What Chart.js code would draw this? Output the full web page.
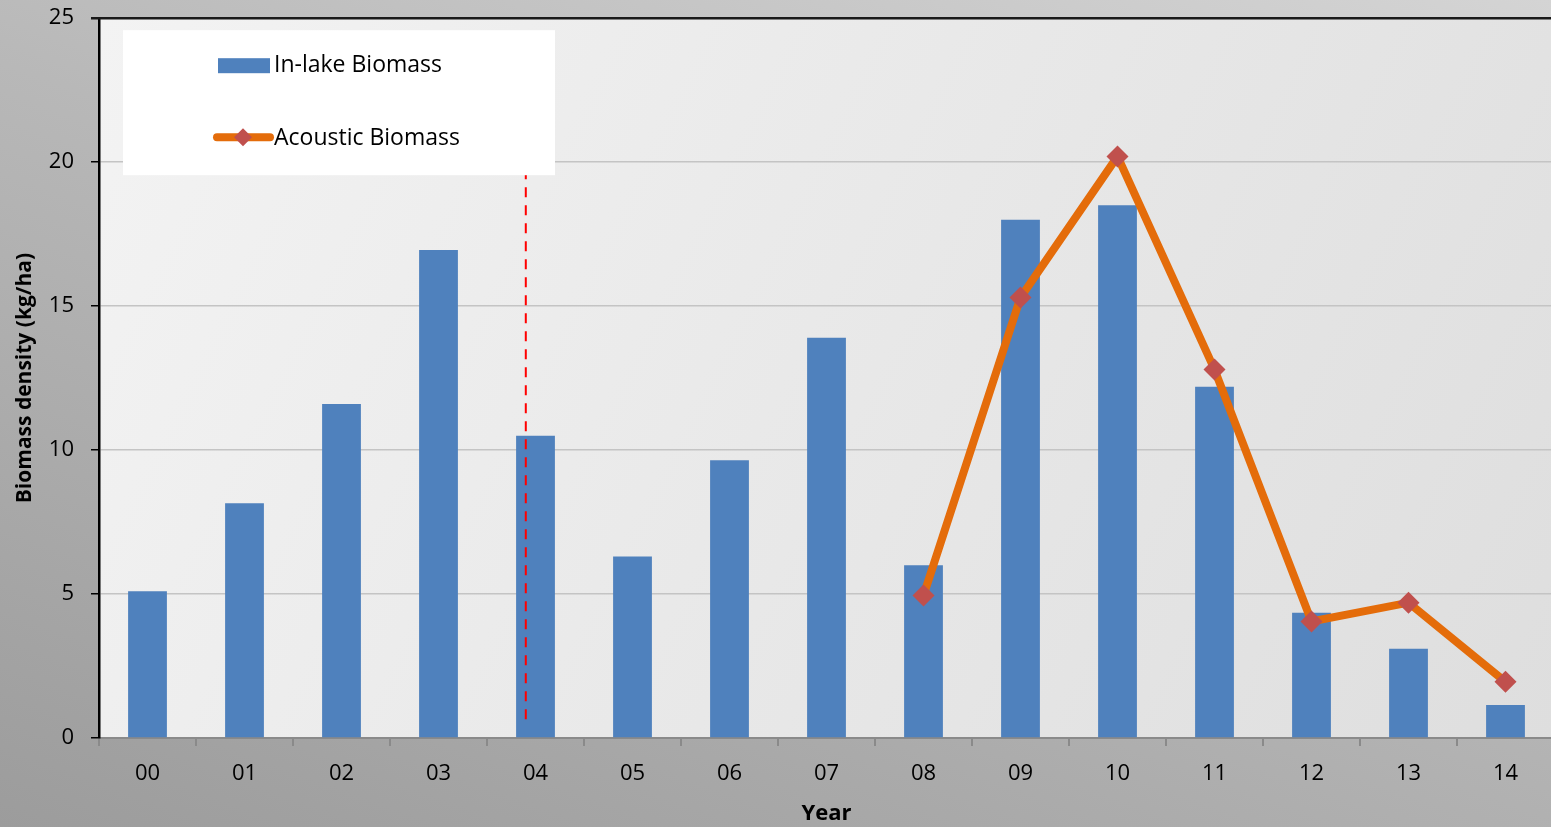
<!DOCTYPE html>
<html>
<head>
<meta charset="utf-8">
<script src="https://cdn.jsdelivr.net/npm/chart.js@4"></script>
<style>
  html, body { margin: 0; padding: 0; }
  body { width: 1551px; height: 827px; overflow: hidden;
         background: linear-gradient(200deg, #d4d4d4 0%, #b8b8b8 45%, #9c9c9c 100%); }
  canvas { display: block; margin-top: -12px; }
</style>
</head>
<body>
<canvas id="biomassChart" width="1565" height="839"></canvas>
<script>
// chart data
var years = ['00','01','02','03','04','05','06','07','08','09','10','11','12','13','14'];
var inLakeBiomass = [5.1, 8.15, 11.6, 16.95, 10.5, 6.3, 9.65, 13.9, 6.0, 18.0, 18.5, 12.2, 4.35, 3.1, 1.15];
var acousticBiomass = [null, null, null, null, null, null, null, null, 4.95, 15.3, 20.2, 12.8, 4.05, 4.7, 1.95];
var yTicks = [0, 5, 10, 15, 20, 25];
// dashed marker between 03 and 04 (fractional category index) and its value range
var dividerAt = 3.9;
var dividerRange = [0.45, 21];

var fontFam = "'Open Sans', 'Liberation Sans', sans-serif";

// plot area background + top border + dashed divider + legend box
var decorations = {
  id: 'decorations',
  beforeDraw: function(chart) {
    var c = chart.ctx, a = chart.chartArea;
    var g = c.createLinearGradient(a.left, a.top, a.right, a.bottom);
    g.addColorStop(0, '#f3f3f3');
    g.addColorStop(1, '#dedede');
    c.save();
    c.fillStyle = g;
    c.fillRect(a.left, a.top, a.right - a.left, a.bottom - a.top);
    c.restore();
  },
  afterDatasetsDraw: function(chart) {
    var c = chart.ctx, a = chart.chartArea;
    var xs = chart.scales.x, ys = chart.scales.y;
    var p0 = xs.getPixelForValue(Math.floor(dividerAt));
    var p1 = xs.getPixelForValue(Math.floor(dividerAt) + 1);
    var dx = p0 + (p1 - p0) * (dividerAt - Math.floor(dividerAt));
    c.save();
    // top border
    c.strokeStyle = '#1a1a1a';
    c.lineWidth = 2.5;
    c.beginPath(); c.moveTo(a.left - 8, a.top); c.lineTo(a.right, a.top); c.stroke();
    // dashed divider
    c.strokeStyle = '#ff0000';
    c.lineWidth = 2;
    c.setLineDash([10, 8]);
    c.beginPath();
    c.moveTo(dx, ys.getPixelForValue(dividerRange[1]));
    c.lineTo(dx, ys.getPixelForValue(dividerRange[0]));
    c.stroke();
    c.setLineDash([]);
    // legend box (relative to plot area corner)
    var lx = a.left + 24, ly = a.top + 12;
    c.fillStyle = '#ffffff';
    c.fillRect(lx, ly, 432, 145);
    var bar = chart.data.datasets[0], line = chart.data.datasets[1];
    c.fillStyle = bar.backgroundColor;
    c.fillRect(lx + 95, ly + 28, 52, 15);
    c.strokeStyle = line.borderColor;
    c.lineWidth = 8;
    c.lineCap = 'round';
    c.beginPath(); c.moveTo(lx + 94, ly + 107); c.lineTo(lx + 147, ly + 107); c.stroke();
    c.fillStyle = line.pointBackgroundColor;
    c.beginPath();
    c.moveTo(lx + 120, ly + 98); c.lineTo(lx + 129, ly + 107); c.lineTo(lx + 120, ly + 116); c.lineTo(lx + 111, ly + 107);
    c.closePath(); c.fill();
    c.fillStyle = '#000000';
    c.font = '23px ' + fontFam;
    c.textBaseline = 'middle';
    c.fillText(bar.label, lx + 151, ly + 35);
    c.fillText(line.label, lx + 151, ly + 108);
    c.restore();
  }
};

var ctx = document.getElementById('biomassChart').getContext('2d');
var biomassChart = new Chart(ctx, {
  type: 'bar',
  data: {
    labels: years,
    datasets: [{
      label: 'In-lake Biomass',
      data: inLakeBiomass,
      backgroundColor: '#4f81bd',
      barPercentage: 0.4,
      categoryPercentage: 1.0,
      order: 1
    }, {
      type: 'line',
      label: 'Acoustic Biomass',
      data: acousticBiomass,
      borderColor: '#e46c0a',
      borderWidth: 8,
      pointStyle: 'rectRot',
      pointRadius: 11,
      pointBackgroundColor: '#c0504d',
      pointBorderColor: '#c0504d',
      pointBorderWidth: 0,
      tension: 0,
      spanGaps: false,
      order: 0
    }]
  },
  options: {
    responsive: false,
    animation: false,
    devicePixelRatio: 1,
    layout: { padding: 0 },
    plugins: { legend: { display: false }, tooltip: { enabled: false } },
    scales: {
      x: {
        offset: true,
        grid: { display: true, drawOnChartArea: false, offset: true, color: '#8a8a8a', tickLength: 8, lineWidth: 2 },
        border: { color: '#8a8a8a', width: 2 },
        ticks: { color: '#000', font: { family: fontFam, size: 22 }, padding: 15 },
        title: { display: true, text: 'Year', color: '#000', font: { family: fontFam, size: 22, weight: 'bold' }, padding: { top: 0, bottom: 0 } },
        afterFit: function(s) { s.height = 89; }
      },
      y: {
        min: 0, max: 25,
        afterBuildTicks: function(s) { s.ticks = yTicks.map(function(v) { return { value: v }; }); },
        grid: { color: '#c4c4c4', lineWidth: 1.5, tickLength: 8, tickColor: '#000', drawTicks: true },
        border: { color: '#000', width: 2.5 },
        ticks: { color: '#000', font: { family: fontFam, size: 22 }, padding: 17 },
        title: { display: true, text: 'Biomass density (kg/ha)', color: '#000', font: { family: fontFam, size: 21, weight: 'bold' }, padding: { top: 12, bottom: 4 } },
        afterFit: function(s) { s.width = 99; }
      }
    }
  },
  plugins: [decorations]
});
</script>
</body>
</html>
